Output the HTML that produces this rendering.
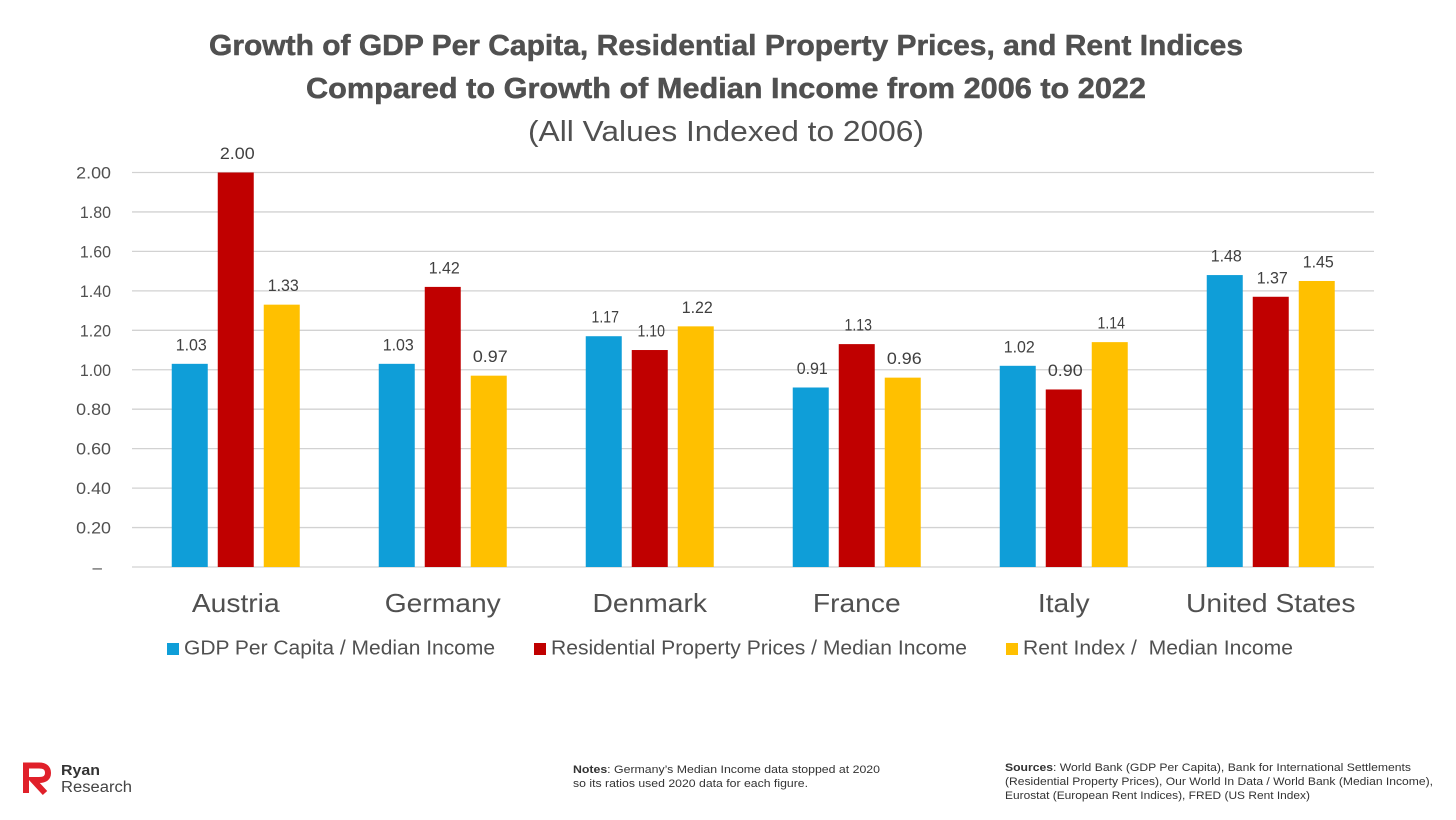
<!DOCTYPE html>
<html lang="en">
<head>
<meta charset="utf-8">
<title>Growth of GDP Per Capita, Property Prices and Rent vs Median Income</title>
<style>
html,body{margin:0;padding:0;background:#fff;}
body{width:1456px;height:820px;overflow:hidden;}
svg{display:block;font-family:"Liberation Sans","DejaVu Sans",sans-serif;}
</style>
</head>
<body>
<svg id="chart" width="1456" height="820" viewBox="0 0 1456 820" xmlns="http://www.w3.org/2000/svg">
  <rect x="0" y="0" width="1456" height="820" fill="#ffffff"/>
  <text x="726" y="55" text-anchor="middle" font-size="29" font-weight="700" fill="#505050" stroke="#505050" stroke-width="0.5" textLength="1034" lengthAdjust="spacingAndGlyphs">Growth of GDP Per Capita, Residential Property Prices, and Rent Indices</text>
  <text x="726" y="98" text-anchor="middle" font-size="29" font-weight="700" fill="#505050" stroke="#505050" stroke-width="0.5" textLength="840" lengthAdjust="spacingAndGlyphs">Compared to Growth of Median Income from 2006 to 2022</text>
  <text x="726" y="141" text-anchor="middle" font-size="29" fill="#505050" textLength="396" lengthAdjust="spacingAndGlyphs">(All Values Indexed to 2006)</text>
  <g id="grid"></g>
  <g id="yaxis"></g>
  <g id="bars"></g>
  <g id="xaxis"></g>

  <g>
    <g>
      <rect x="167" y="643" width="12" height="12" fill="#0F9ED8"/>
      <text x="184" y="654.500" font-size="20" fill="#505050" textLength="311" lengthAdjust="spacingAndGlyphs">GDP Per Capita / Median Income</text>
    </g>
    <g>
      <rect x="534" y="643" width="12" height="12" fill="#C00000"/>
      <text x="551" y="654.500" font-size="20" fill="#505050" textLength="416" lengthAdjust="spacingAndGlyphs">Residential Property Prices / Median Income</text>
    </g>
    <g>
      <rect x="1006" y="643" width="12" height="12" fill="#FFC000"/>
      <text x="1023" y="654.500" font-size="20" fill="#505050" textLength="270" lengthAdjust="spacingAndGlyphs" xml:space="preserve">Rent Index /  Median Income</text>
    </g>
  </g>

  <g>
    <path fill="none" stroke="#E0202A" stroke-width="6" d="M26 793 V765.500 H39 Q48 765.500 48 773 Q48 780 39 780 H33 L45 793"/>
    <text x="61" y="775" font-size="15" font-weight="700" fill="#333333" textLength="39" lengthAdjust="spacingAndGlyphs">Ryan</text>
    <text x="61" y="792" font-size="15.500" fill="#444444" textLength="71" lengthAdjust="spacingAndGlyphs">Research</text>
  </g>

  <g font-size="11" fill="#333333">
    <text x="573" y="773" textLength="307" lengthAdjust="spacingAndGlyphs"><tspan font-weight="700">Notes</tspan>: Germany’s Median Income data stopped at 2020</text>
    <text x="573" y="787" textLength="235" lengthAdjust="spacingAndGlyphs">so its ratios used 2020 data for each figure.</text>
  </g>
  <g font-size="11" fill="#333333">
    <text x="1005" y="771" textLength="406" lengthAdjust="spacingAndGlyphs"><tspan font-weight="700">Sources</tspan>: World Bank (GDP Per Capita), Bank for International Settlements</text>
    <text x="1005" y="785" textLength="428" lengthAdjust="spacingAndGlyphs">(Residential Property Prices), Our World In Data / World Bank (Median Income),</text>
    <text x="1005" y="799" textLength="305" lengthAdjust="spacingAndGlyphs">Eurostat (European Rent Indices), FRED (US Rent Index)</text>
  </g>
</svg>
<script>
const categories = ["Austria", "Germany", "Denmark", "France", "Italy", "United States"];
const gdpPerCapita = [1.03, 1.03, 1.17, 0.91, 1.02, 1.48];
const propertyPrices = [2.00, 1.42, 1.10, 1.13, 0.90, 1.37];
const rentIndex = [1.33, 0.97, 1.22, 0.96, 1.14, 1.45];
const yTicks = [0, 0.2, 0.4, 0.6, 0.8, 1.0, 1.2, 1.4, 1.6, 1.8, 2.0];
const seriesKeys = ["gdp", "property", "rent"];

const SVG_NS = "http://www.w3.org/2000/svg";
const plotLeft = 132, plotRight = 1374, plotBottom = 567, plotTop = 172.500, yMax = 2;
const barWidth = 36, barStep = 46;
const seriesColors = ["#0F9ED8", "#C00000", "#FFC000"];
const allSeries = [gdpPerCapita, propertyPrices, rentIndex];

function yScale(v) { return plotBottom - (v / yMax) * (plotBottom - plotTop); }
function xCenter(i) { return plotLeft + 0.25 + (plotRight - plotLeft) * (i + 0.5) / categories.length; }
function make(tag, attrs, text) {
  const el = document.createElementNS(SVG_NS, tag);
  for (const k in attrs) el.setAttribute(k, attrs[k]);
  if (text !== undefined) el.textContent = text;
  return el;
}
function slug(s) { return s.toLowerCase().replace(/[^a-z0-9]+/g, "-"); }
/* Approximates the reference typeface, whose "1" is narrower than other digits */
function numberWidth(str) {
  let w = 0;
  for (const c of str) w += c === "1" ? 6.5 : c === "." ? 4.2 : 10.2;
  return w;
}

const grid = document.getElementById("grid");
const yaxis = document.getElementById("yaxis");
const bars = document.getElementById("bars");
const xaxis = document.getElementById("xaxis");

yTicks.forEach(function (t) {
  const y = yScale(t);
  const line = make("line", { x1: plotLeft, x2: plotRight, y1: y, y2: y, stroke: "#D2D2D2", "stroke-width": 1.3 });
  
  
  grid.appendChild(line);
  const str = t === 0 ? "–" : t.toFixed(2);
  const attrs = { x: t === 0 ? 102 : 111, y: y + 6, "text-anchor": "end", "font-size": 17, fill: "#505050" };
  if (t !== 0) {
    attrs.textLength = numberWidth(str);
    attrs.lengthAdjust = "spacingAndGlyphs";
  }
  const label = make("text", attrs, str);
  
  
  yaxis.appendChild(label);
});

categories.forEach(function (cat, i) {
  const cx = xCenter(i);
  const cl = make("text", { x: cx, y: 612, "text-anchor": "middle", "font-size": 26, fill: "#505050" }, cat);
  
  
  xaxis.appendChild(cl);
  cl.setAttribute("textLength", cl.getComputedTextLength() * 1.085);
  cl.setAttribute("lengthAdjust", "spacingAndGlyphs");
  allSeries.forEach(function (series, s) {
    const v = series[i];
    const bx = cx + (s - 1) * barStep - barWidth / 2;
    const by = yScale(v);
    const bar = make("rect", { x: bx, y: by, width: barWidth, height: plotBottom - by, fill: seriesColors[s] });
    
    
    bars.appendChild(bar);
    const str = v.toFixed(2);
    const lbl = make("text", { x: bx + barWidth / 2 + 1.5, y: by - 13.500, "text-anchor": "middle", "font-size": 17, fill: "#404040", textLength: numberWidth(str), lengthAdjust: "spacingAndGlyphs" }, str);
    
    
    bars.appendChild(lbl);
  });
});
</script>
</body>
</html>
